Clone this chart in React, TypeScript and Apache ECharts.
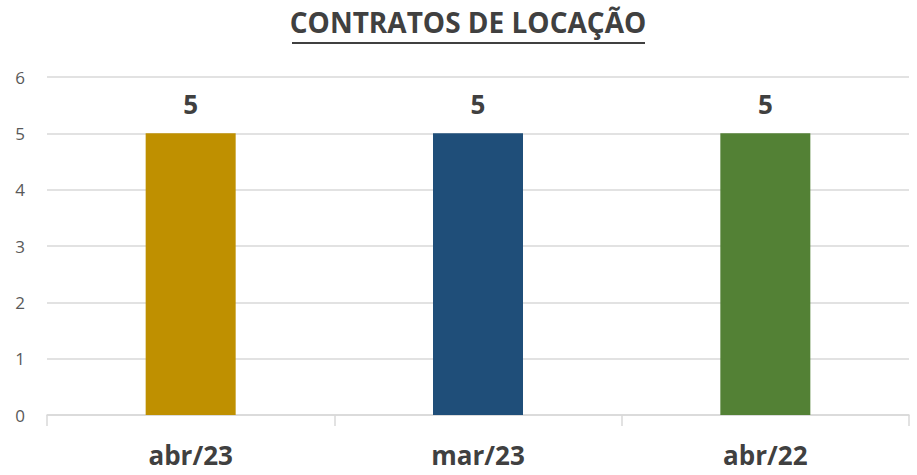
import React, { useEffect, useRef } from "react";
import * as echarts from "echarts";

const categories = ["abr/23", "mar/23", "abr/22"];
const values = [5, 5, 5];
const barColors = ["#BF9000", "#1F4E79", "#538135"];
const titleText = "CONTRATOS DE LOCAÇÃO";

const FONT = "'Open Sans', 'Noto Sans', sans-serif";

export default function App() {
  const ref = useRef<HTMLDivElement>(null);
  useEffect(() => {
    if (!ref.current) return;
    const chart = echarts.init(ref.current, null, { renderer: "svg" });
    chart.setOption({
      animation: false,
      backgroundColor: "#ffffff",
      textStyle: { fontFamily: FONT },
      graphic: [
        {
          type: "text",
          x: 468,
          y: 8,
          style: {
            text: titleText,
            font: `bold 28px ${FONT}`,
            fill: "#404040",
            align: "center",
            verticalAlign: "top",
          },
        },
        {
          type: "line",
          shape: { x1: 292, y1: 43, x2: 645, y2: 43 },
          style: { stroke: "#404040", lineWidth: 2 },
        },
      ],
      grid: { left: 47, right: 8, top: 77, bottom: 60, containLabel: false },
      xAxis: {
        type: "category",
        data: categories,
        axisLine: { show: true, lineStyle: { color: "#d9d9d9", width: 1.5 } },
        axisTick: { show: true, length: 11, lineStyle: { color: "#d9d9d9", width: 1.5 } },
        axisLabel: {
          color: "#404040",
          fontSize: 26,
          fontWeight: "bold",
          fontFamily: FONT,
          lineHeight: 26,
          margin: 27,
        },
      },
      yAxis: {
        type: "value",
        min: 0,
        max: 6,
        interval: 1,
        axisLine: { show: false },
        axisTick: { show: false },
        splitLine: { lineStyle: { color: "#d9d9d9", width: 1.5 } },
        axisLabel: { color: "#595959", fontSize: 17, fontFamily: FONT, margin: 22 },
      },
      series: [
        {
          type: "bar",
          barWidth: 90,
          data: values.map((v, i) => ({ value: v, itemStyle: { color: barColors[i] } })),
          label: {
            show: true,
            position: "top",
            distance: 16,
            color: "#404040",
            fontSize: 26,
            fontWeight: "bold",
            fontFamily: FONT,
          },
        },
      ],
    });
    return () => chart.dispose();
  }, []);
  return <div ref={ref} style={{ width: 917, height: 475, position: "absolute", left: 0, top: 0 }} />;
}
